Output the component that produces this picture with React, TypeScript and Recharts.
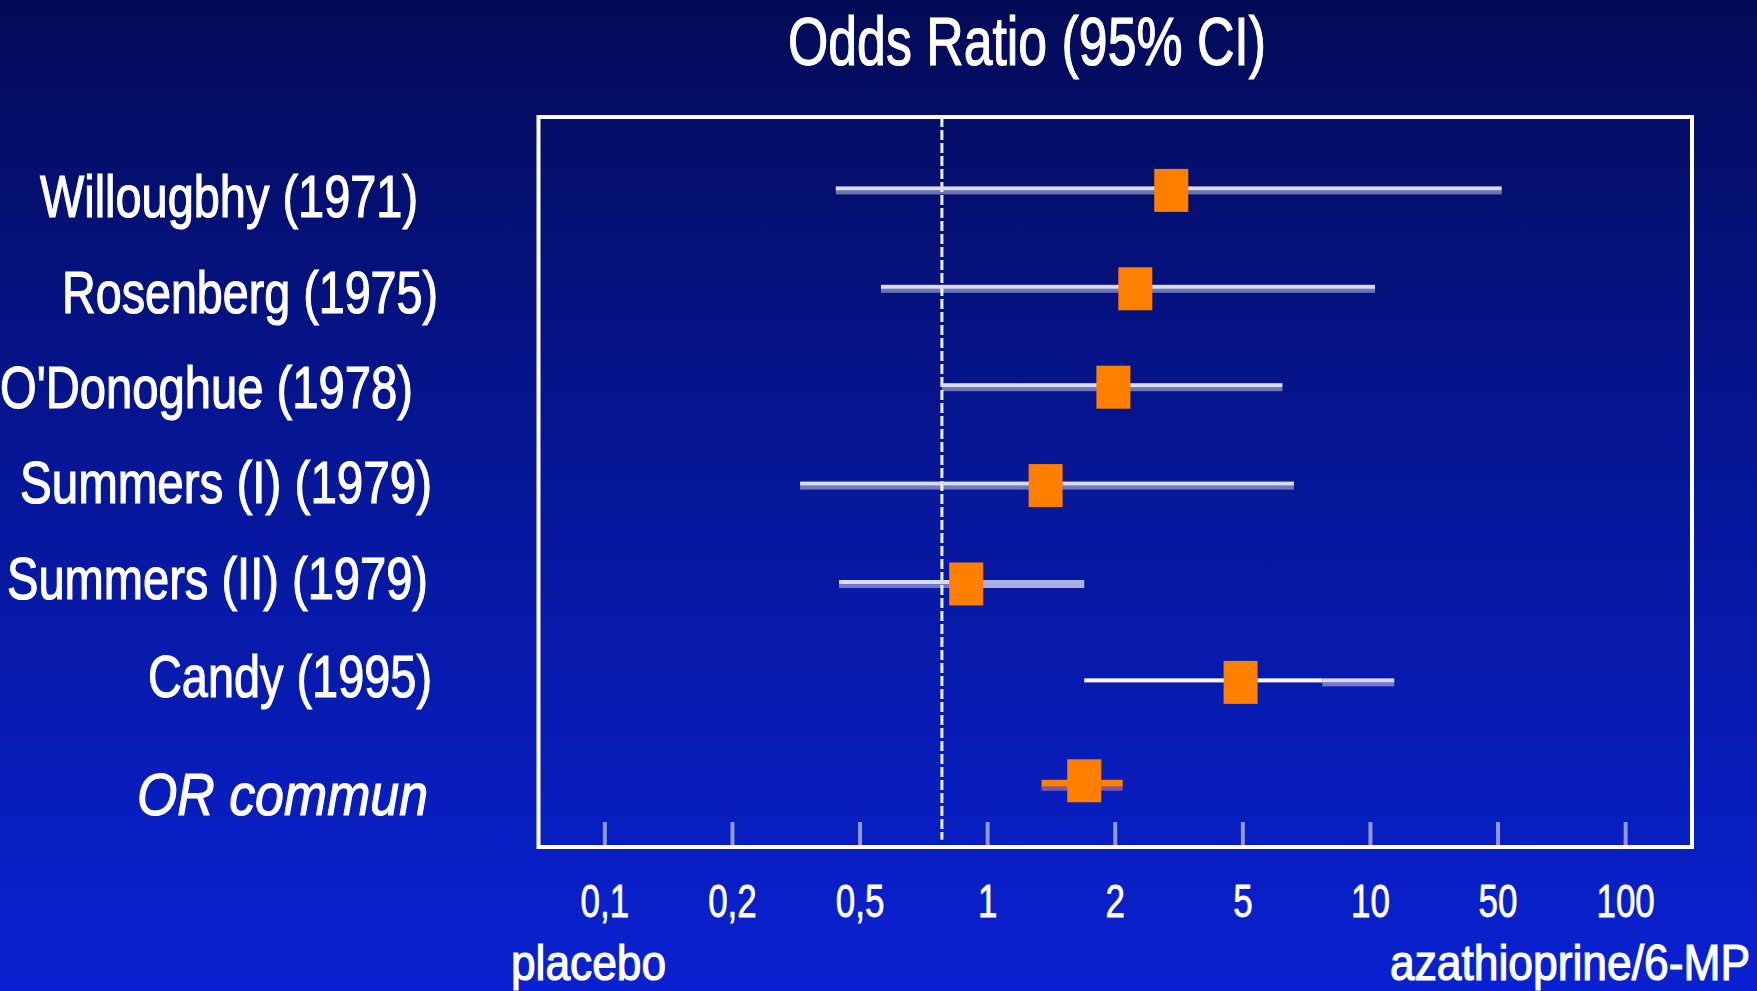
import React from 'react';
import { ComposedChart, Scatter, XAxis, YAxis, ReferenceLine, ReferenceArea } from 'recharts';

const STUDIES = [
  'Willougbhy (1971)',
  'Rosenberg (1975)',
  "O'Donoghue (1978)",
  'Summers (I) (1979)',
  'Summers (II) (1979)',
  'Candy (1995)',
  'OR commun',
];
const ODDS = [2.99, 2.31, 1.98, 1.37, 0.89, 4.92, 1.69];
const CI_LOW = [0.42, 0.56, 0.78, 0.325, 0.43, 1.69, 1.34];
const CI_HIGH = [51, 10.6, 6.2, 6.6, 1.69, 13.5, 2.11];
// where the CI line changes its look (as drawn on the slide)
const CI_BREAK: (number | null)[] = [null, null, null, null, 0.89, 7.7, null];
const CI_STYLE = [['duo'], ['duo'], ['duo'], ['duo'], ['duo', 'pale'], ['thin', 'duo'], ['orange']];

const TICK_VALUES = [0.1, 0.2, 0.5, 1, 2, 5, 10, 50, 100];
const TICK_LABELS = ['0,1', '0,2', '0,5', '1', '2', '5', '10', '50', '100'];
const NULL_LINE = 0.78;

const X_DOMAIN: [number, number] = [-0.52, 8.52];
const Y_DOMAIN: [number, number] = [-0.746, 6.673];
const FONT = '"Liberation Sans", Arial, sans-serif';
const ORANGE = '#ff8000';

// label placement of the study names (left x, drawn width, baseline offset)
const LABEL_LAYOUT = [
  { x: 40, w: 378, dy: 27 },
  { x: 62, w: 376, dy: 24 },
  { x: 0, w: 413, dy: 21 },
  { x: 20, w: 412, dy: 17 },
  { x: 7, w: 421, dy: 15 },
  { x: 148, w: 284, dy: 15 },
  { x: 137, w: 291, dy: 34 },
];

// each labelled tick is one unit apart on the axis, log-interpolated in between
const toPos = (v: number) => {
  const t = TICK_VALUES;
  let i = 0;
  while (i < t.length - 2 && v > t[i + 1]) i++;
  return i + Math.log(v / t[i]) / Math.log(t[i + 1] / t[i]);
};

const points = STUDIES.map((name, i) => ({ name, row: i, pos: toPos(ODDS[i]) }));

const segments = STUDIES.flatMap((_, i) => {
  const brk = CI_BREAK[i];
  const parts = brk == null ? [[CI_LOW[i], CI_HIGH[i]]] : [[CI_LOW[i], brk], [brk, CI_HIGH[i]]];
  return parts.map(([a, b], k) => ({
    key: `ci-${i}-${k}`,
    kind: CI_STYLE[i][k],
    data: [
      { row: i, pos: toPos(a) },
      { row: i, pos: toPos(b) },
    ],
  }));
});

const CiLine = ({ points: pts, kind }: { points?: { x: number; y: number }[]; kind: string }) => {
  if (!pts || pts.length < 2) return null;
  const x1 = Math.min(pts[0].x, pts[1].x);
  const w = Math.abs(pts[1].x - pts[0].x);
  const y = pts[0].y;
  if (kind === 'pale') return <rect x={x1} y={y - 4} width={w} height={8} fill="rgba(255,255,255,0.66)" />;
  if (kind === 'thin') return <rect x={x1} y={y - 4} width={w} height={4} fill="#ffffff" />;
  if (kind === 'orange')
    return (
      <g>
        <rect x={x1} y={y - 1} width={w} height={7} fill={ORANGE} />
        <rect x={x1} y={y + 6} width={w} height={4} fill="#7d52b4" />
      </g>
    );
  return (
    <g>
      <rect x={x1} y={y - 4} width={w} height={4} fill="#dcdcef" />
      <rect x={x1} y={y} width={w} height={4} fill="rgba(255,255,255,0.42)" />
    </g>
  );
};

const NoDot = () => <g />;

const Box = (props: any) => {
  const { cx, cy } = props;
  return <rect x={cx - 17} y={cy - 21.5} width={34} height={43} fill={ORANGE} />;
};

// the slide text is a heavy, narrow sans: a thin outline gives it the same weight
const heavy = { stroke: '#ffffff', strokeWidth: 1.2, paintOrder: 'stroke' as const };

const StudyTick = (props: any) => {
  const { y, payload } = props;
  const i = payload.value as number;
  const L = LABEL_LAYOUT[i];
  if (!L) return null;
  return (
    <text
      x={L.x}
      y={y + L.dy}
      textLength={L.w}
      lengthAdjust="spacingAndGlyphs"
      fontSize={59}
      fontFamily={FONT}
      fontStyle={i === STUDIES.length - 1 ? 'italic' : 'normal'}
      fill="#ffffff"
      {...heavy}
    >
      {STUDIES[i]}
    </text>
  );
};

const OddsTick = (props: any) => {
  const { x, y, payload } = props;
  return (
    <g>
      <line x1={x} x2={x} y1={y - 25} y2={y - 1} stroke="rgba(255,255,255,0.55)" strokeWidth={4} />
      <text
        x={0}
        y={0}
        transform={`translate(${x},${y + 70}) scale(0.76,1)`}
        textAnchor="middle"
        fontSize={46}
        fontFamily={FONT}
        fill="#ffffff"
        stroke="#ffffff"
        strokeWidth={0.8}
      >
        {TICK_LABELS[payload.value]}
      </text>
    </g>
  );
};

const App = () => {
  const nullPos = toPos(NULL_LINE);
  return (
    <div
      style={{
        position: 'absolute',
        left: 0,
        top: 0,
        width: 1757,
        height: 991,
        background: 'linear-gradient(to bottom, #030b57 0%, #06179a 50%, #0a21d2 100%)',
        overflow: 'hidden',
      }}
    >
      <ComposedChart width={1757} height={991} margin={{ top: 117, right: 65, bottom: 0, left: 0 }}>
        <XAxis
          type="number"
          dataKey="pos"
          domain={X_DOMAIN}
          ticks={[0, 1, 2, 3, 4, 5, 6, 7, 8]}
          interval={0}
          allowDataOverflow
          axisLine={false}
          tickLine={false}
          tickSize={0}
          tickMargin={0}
          height={144}
          tick={<OddsTick />}
        />
        <YAxis
          type="number"
          dataKey="row"
          domain={Y_DOMAIN}
          reversed
          ticks={[0, 1, 2, 3, 4, 5, 6]}
          interval={0}
          allowDataOverflow
          axisLine={false}
          tickLine={false}
          width={538.5}
          tick={<StudyTick />}
        />
        <ReferenceArea
          x1={X_DOMAIN[0]}
          x2={X_DOMAIN[1]}
          y1={Y_DOMAIN[0]}
          y2={Y_DOMAIN[1]}
          ifOverflow="visible"
          fill="none"
          fillOpacity={0}
          stroke="#ffffff"
          strokeWidth={4}
        />
        <ReferenceLine
          segment={[
            { x: nullPos, y: Y_DOMAIN[0] },
            { x: nullPos, y: 6.6 },
          ]}
          ifOverflow="visible"
          stroke="#eef0ff"
          strokeWidth={3}
          strokeDasharray="10 3"
        />
        {segments.map((s) => (
          <Scatter
            key={s.key}
            data={s.data}
            shape={NoDot}
            line={(p: any) => <CiLine points={p.points} kind={s.kind} />}
            isAnimationActive={false}
            legendType="none"
          />
        ))}
        <Scatter data={points} shape={<Box />} isAnimationActive={false} legendType="none" />
      </ComposedChart>
      <svg
        width={1757}
        height={991}
        style={{ position: 'absolute', left: 0, top: 0, pointerEvents: 'none' }}
      >
        <text x={788} y={65} textLength={478} lengthAdjust="spacingAndGlyphs" fontSize={68} fontFamily={FONT} fill="#ffffff" {...heavy}>
          Odds Ratio (95% CI)
        </text>
        <text x={511} y={980} textLength={155} lengthAdjust="spacingAndGlyphs" fontSize={50} fontFamily={FONT} fill="#ffffff" {...heavy}>
          placebo
        </text>
        <text x={1390} y={980} textLength={360} lengthAdjust="spacingAndGlyphs" fontSize={50} fontFamily={FONT} fill="#ffffff" {...heavy}>
          azathioprine/6-MP
        </text>
      </svg>
    </div>
  );
};

export default App;
